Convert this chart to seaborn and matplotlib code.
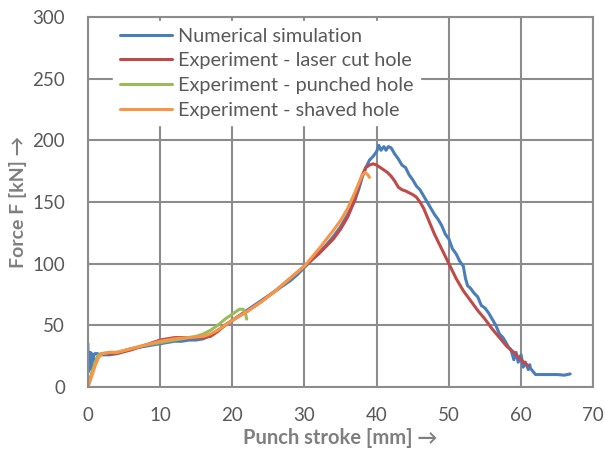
import matplotlib
matplotlib.use("Agg")
import matplotlib.pyplot as plt
import seaborn as sns
import pandas as pd

sim_x = [0, 0.05, 0.15, 0.25, 0.35, 0.45, 0.55, 0.7, 0.85, 1.0, 1.3, 1.7, 2.2, 3, 4, 5, 6, 7, 8, 9,
         10, 11, 12, 13, 14, 15, 16, 17, 18, 19, 20, 21, 22, 23, 24, 25, 26, 27, 28, 29, 30, 31, 32,
         33, 34, 35, 36, 37, 37.5, 38, 38.5, 39, 39.5, 40, 40.3, 40.6, 41, 41.3, 41.6, 42, 42.5, 43,
         43.5, 44, 44.5, 45, 45.5, 46, 46.5, 47, 47.5, 48, 48.5, 49, 49.5, 50, 50.5, 51, 51.5, 52,
         52.3, 52.6, 53, 53.5, 54, 54.5, 55, 55.5, 56, 56.5, 57, 57.5, 58, 58.3, 58.6, 59, 59.3, 59.6,
         60, 60.3, 60.6, 61, 61.2, 61.3, 62, 63, 64, 65, 66, 66.8]
sim_y = [35, 12, 26, 14, 28, 16, 27, 20, 26, 27, 27, 26, 26, 26, 27, 29, 31, 32, 33, 34,
         35, 36, 37, 37, 38, 38, 39, 42, 46, 50, 54, 58, 62, 66, 70, 74, 78, 82, 86, 91, 97, 103, 109,
         115, 122, 130, 140, 152, 160, 170, 178, 184, 187, 191, 196, 192, 195, 192, 195, 194, 189, 185,
         180, 178, 172, 168, 163, 160, 155, 150, 145, 140, 136, 131, 124, 120, 112, 108, 102, 98,
         88, 82, 80, 76, 73, 66, 64, 60, 55, 50, 43, 40, 35, 32, 30, 22, 28, 20,
         26, 16, 20, 14, 18, 15, 10, 10, 10, 10, 9.5, 10.5]

laser_x = [0, 0.5, 1, 1.5, 2, 3, 4, 6, 8, 10, 11, 12, 13, 14, 15, 16, 17, 18, 19, 20, 22, 24, 26, 28,
           30, 32, 34, 35, 36, 37, 37.5, 38, 38.5, 39, 39.5, 40, 40.5, 41, 41.5, 42, 42.5, 43, 43.5,
           44, 45, 45.5, 46, 46.5, 47, 48, 49, 50, 51, 52, 53, 54, 55, 56, 57, 58, 59, 60, 61]
laser_y = [0, 10, 20, 26, 27, 27, 27, 30, 34, 38, 39, 40, 40, 40, 40, 40, 41, 45, 50, 54, 61, 69, 78, 88,
           98, 108, 120, 128, 138, 152, 163, 172, 178, 180, 181, 180, 178, 176, 174, 171, 167, 162, 160,
           159, 156, 154, 150, 145, 138, 124, 112, 100, 88, 78, 70, 62, 55, 47, 40, 33, 28, 22, 17]

punched_x = [0, 0.5, 1, 1.5, 2, 3, 4, 6, 8, 10, 12, 14, 15, 16, 17, 18, 19, 20, 20.5, 21, 21.5, 21.8, 22]
punched_y = [0, 10, 20, 26, 27, 28, 28, 31, 34, 36, 38, 40, 41, 43, 46, 50, 55, 59, 61, 63, 63, 60, 55]

shaved_x = [0, 0.5, 1, 1.5, 2, 3, 4, 6, 8, 10, 12, 14, 16, 17, 18, 19, 20, 22, 24, 26, 28, 30, 32, 34,
            35, 36, 37, 37.5, 38, 38.4, 38.8, 39]
shaved_y = [0, 8, 17, 24, 27, 28, 28, 31, 34, 37, 39, 40, 41, 43, 46, 50, 54, 61, 69, 78, 88, 98, 112, 127,
            135, 145, 158, 165, 172, 174, 172, 170]

labels = ["Numerical simulation", "Experiment - laser cut hole",
          "Experiment - punched hole", "Experiment - shaved hole"]
colors = ["#4A7EBB", "#BE4B48", "#9BBB59", "#F79646"]
x_ticks = [0, 10, 20, 30, 40, 50, 60, 70]
y_ticks = [0, 50, 100, 150, 200, 250, 300]

sns.set_style("white")
plt.rcParams["font.family"] = ["Lato", "DejaVu Sans"]

fig = plt.figure(figsize=(6.06, 4.53), dpi=100)
ax = fig.add_axes([0.145, 0.146, 0.834, 0.816])

grid_c = "#8C8C8C"
series = [(sim_x, sim_y), (laser_x, laser_y), (punched_x, punched_y), (shaved_x, shaved_y)]
for (xs, ys), lab, col in zip(series, labels, colors):
    df = pd.DataFrame({"x": xs, "y": ys})
    sns.lineplot(data=df, x="x", y="y", ax=ax, sort=False, estimator=None,
                 color=col, linewidth=2.2, label=lab)

ax.set_xlim(0, 70)
ax.set_ylim(0, 300)
ax.set_xticks(x_ticks)
ax.set_yticks(y_ticks)
ax.grid(True, color=grid_c, linewidth=1.5)
ax.set_axisbelow(True)
for s in ax.spines.values():
    s.set_visible(True)
    s.set_color(grid_c)
    s.set_linewidth(1.5)
ax.tick_params(axis="both", colors=grid_c, direction="inout", length=11, width=1.5,
               labelcolor="#595959", labelsize=13.5)
ax.tick_params(axis="y", pad=11)
ax.tick_params(axis="x", pad=9)
ax.set_xlabel("Punch stroke [mm] →", fontsize=14.5, fontweight="bold", color="#7F7F7F", labelpad=3)
ax.set_ylabel("Force F [kN] →", fontsize=14, fontweight="bold", color="#7F7F7F", labelpad=4)

leg = ax.legend(loc="upper left", bbox_to_anchor=(0.05, 0.99), borderaxespad=0,
                frameon=True, fancybox=False, framealpha=1.0, edgecolor="white",
                fontsize=14.3, handlelength=2.6, handletextpad=0.3, labelspacing=0.38,
                borderpad=0.35)
for t in leg.get_texts():
    t.set_color("#595959")

fig.savefig("out.png", dpi=100)
